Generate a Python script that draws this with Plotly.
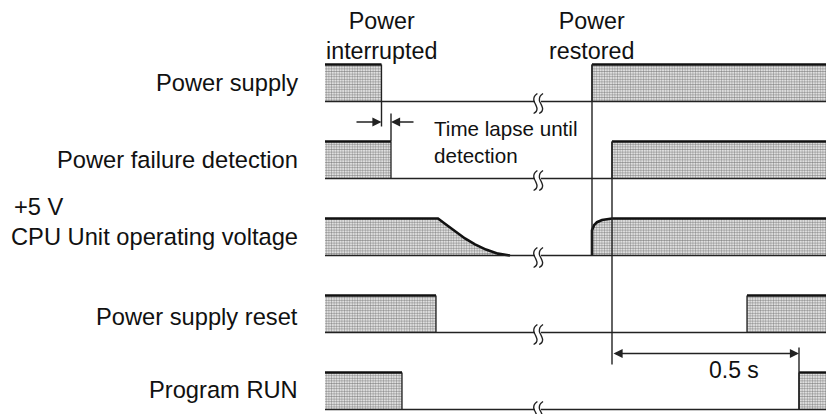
import plotly.graph_objects as go

# ---- data (x = time axis position, levels 0..1) ----
row_labels = ["Power supply", "Power failure detection", "CPU Unit operating voltage",
              "Power supply reset", "Program RUN"]
high_intervals = [
    [(325, 381.5), (592, 826)],   # Power supply
    [(325, 391), (612, 826)],     # Power failure detection
    [],                           # CPU voltage (drawn from curves below)
    [(325, 436), (747, 826)],     # Power supply reset
    [(325, 402), (799, 826)],     # Program RUN
]
cpu_decay_t = [325, 438, 446, 455, 465, 475, 486, 498, 510]
cpu_decay_v = [1.0, 1.0, 0.84, 0.65, 0.46, 0.30, 0.16, 0.05, 0.0]
cpu_rise_t = [592, 592, 594, 597, 602, 607, 612, 826]
cpu_rise_v = [0.0, 0.68, 0.82, 0.90, 0.96, 0.99, 1.0, 1.0]
t_start, t_end = 325, 826
t_break = 538
t_interrupt, t_detect, t_restore, t_detect_on, t_run = 381.5, 391, 592, 612, 799
top_labels = [("Power<br>interrupted", 381), ("Power<br>restored", 591)]

# ---- geometry (pixel-based axes) ----
W, H = 827, 414
BASE0, STEP, HIGH = 101.5, 77, 37
def base(i): return BASE0 + STEP * i
def lvl(i, v): return base(i) - v * HIGH

FONT = "Liberation Sans, Arial, Helvetica, sans-serif"
INK = "#111111"
pattern = dict(shape=".", size=2.6, solidity=0.55, fgcolor="#1e1e1e", bgcolor="#ffffff")

fig = go.Figure()

def line(xs, ys, w=1.3, color="#222222", shape="linear"):
    fig.add_trace(go.Scatter(x=xs, y=ys, mode="lines", line=dict(color=color, width=w, shape=shape),
                             hoverinfo="skip", showlegend=False))

def fill(xs, ys):
    fig.add_trace(go.Scatter(x=xs, y=ys, mode="lines", fill="toself", line=dict(width=0, color="rgba(0,0,0,0)"),
                             fillcolor="rgba(0,0,0,0)", fillpattern=pattern,
                             hoverinfo="skip", showlegend=False))

for i, ivs in enumerate(high_intervals):
    for (a, b) in ivs:
        fill([a, b, b, a, a], [base(i), base(i), lvl(i, 1), lvl(i, 1), base(i)])
        line([a, b], [lvl(i, 1), lvl(i, 1)], w=2.4, color=INK)
        if a > t_start:
            line([a, a], [base(i), lvl(i, 1)], w=1.3)
        if b < t_end:
            line([b, b], [base(i), lvl(i, 1)], w=1.3)

# CPU voltage curves
ci = 2
fill(cpu_decay_t + [cpu_decay_t[-1], cpu_decay_t[0]],
     [lvl(ci, v) for v in cpu_decay_v] + [base(ci), base(ci)])
line(cpu_decay_t, [lvl(ci, v) for v in cpu_decay_v], w=2.6, color=INK)
fill(cpu_rise_t + [cpu_rise_t[-1], cpu_rise_t[0]],
     [lvl(ci, v) for v in cpu_rise_v] + [base(ci), base(ci)])
line(cpu_rise_t, [lvl(ci, v) for v in cpu_rise_v], w=2.6, color=INK)

# baselines with break marks
s_dx = [2.2, -0.8, -1.4, 0.4, 1.8, 1.0, -1.6]
s_dy = [-8, -5, -1, 3, 7, 10, 12]
for i in range(5):
    b = base(i)
    line([t_start, t_break - 3], [b, b], w=1.4)
    line([t_break + 3, t_end], [b, b], w=1.4)
    for dx in (-2.8, 2.8):
        x0 = t_break + dx
        line([x0 + d for d in s_dx], [b + d for d in s_dy], w=1.4, shape="spline")

# guide lines
line([t_restore, t_restore], [lvl(0, 1), base(2)], w=1.4)
line([t_detect_on, t_detect_on], [lvl(1, 1), base(3) + 32], w=1.4)
line([t_run, t_run], [base(3) + 15, base(4)], w=1.4)
line([t_interrupt, t_interrupt], [base(0), base(0) + 25], w=1.4)
line([t_detect, t_detect], [base(0) + 12, lvl(1, 1)], w=1.4)

ann = []
def arrow(x, y, ax, ay, side="end"):
    ann.append(dict(x=x, y=y, ax=ax, ay=ay, xref="x", yref="y", axref="x", ayref="y",
                    showarrow=True, arrowhead=2, arrowsize=1.3, arrowwidth=1.4,
                    arrowcolor="#222222", arrowside=side, text=""))

arrow(t_interrupt, base(0) + 20.5, 355, base(0) + 20.5)
arrow(t_detect, base(0) + 20.5, 415, base(0) + 20.5)
arrow(t_run, base(3) + 21, t_detect_on, base(3) + 21, side="end+start")

def text(x, y, s, xa="left", size=23.7):
    ann.append(dict(x=x, y=y, xref="x", yref="y", text=s, showarrow=False, xanchor=xa,
                    yanchor="middle", align="center" if xa == "center" else xa,
                    font=dict(family=FONT, size=size, color=INK)))

label_y = [83, 160, 237, 317, 390]
for i, lab in enumerate(row_labels):
    text(300, label_y[i], lab, xa="right")
text(12, 207, "+5 V")
for s, x in top_labels:
    text(x, 36, s, xa="center", size=23.3)
text(432, 128, "Time lapse until", size=20.6)
text(432, 155, "detection", size=20.6)
text(707, 370, "0.5 s", size=23)

fig.update_layout(
    width=W, height=H, margin=dict(l=0, r=0, t=0, b=0),
    paper_bgcolor="white", plot_bgcolor="white",
    xaxis=dict(range=[0, W], visible=False, fixedrange=True),
    yaxis=dict(range=[H, 0], visible=False, fixedrange=True),
    annotations=ann, showlegend=False,
)
fig.write_html("out.html", config={"displayModeBar": False},
               post_script="document.body.style.margin='0';document.body.style.overflow='hidden';")
